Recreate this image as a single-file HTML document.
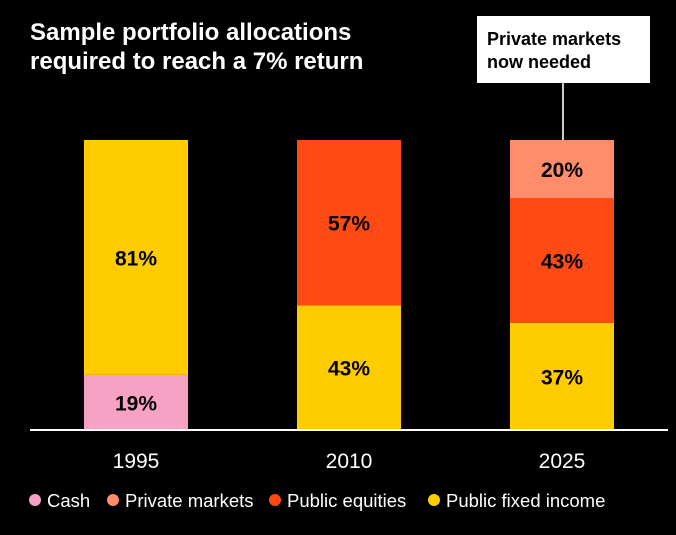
<!DOCTYPE html>
<html><head><meta charset="utf-8"><style>
body{margin:0;background:#000;width:676px;height:530px;overflow:hidden;font-family:"Liberation Sans",sans-serif}
</style></head><body>
<svg id="chart" width="676" height="530">
<text x="30" y="40" fill="#fff" font-size="24" font-weight="bold">Sample portfolio allocations</text>
<text x="30" y="69" fill="#fff" font-size="24" font-weight="bold">required to reach a 7% return</text>
<g>
<rect x="477" y="16" width="173" height="67" fill="#fff"/>
<text x="487" y="45" font-size="18" font-weight="bold" fill="#000">Private markets</text>
<text x="487" y="68" font-size="18" font-weight="bold" fill="#000">now needed</text>
<line x1="563" y1="83" x2="563" y2="140" stroke="#ccc" stroke-width="2"/>
</g>
<g id="bars"></g>
<line x1="30" y1="430" x2="668" y2="430" stroke="#fff" stroke-width="2"/>
<g id="legend"></g>
</svg>
<script>
const years=["1995","2010","2025"];
const cash=[19,0,0];
const fixedIncome=[81,43,37];
const equities=[0,57,43];
const privateMkts=[0,0,20];
const series=[["cash",cash,"#F7A1C4","Cash"],["public-fixed-income",fixedIncome,"#FFCC00","Public fixed income"],["public-equities",equities,"#FF4A14","Public equities"],["private-markets",privateMkts,"#FF8C6B","Private markets"]];
const ns="http://www.w3.org/2000/svg";
const y0=430,h=290;
const ys=v=>v/100*h;
const xs=i=>84+i*213;
const bw=104;
const g=document.getElementById('bars');
years.forEach((yr,i)=>{
  let base=y0;
  series.forEach(s=>{
    const v=s[1][i]; if(!v) return;
    const r=document.createElementNS(ns,'rect');
    r.setAttribute('x',xs(i));r.setAttribute('y',base-ys(v));r.setAttribute('width',bw);r.setAttribute('height',ys(v));r.setAttribute('fill',s[2]);
    
    
    g.appendChild(r);
    const t=document.createElementNS(ns,'text');
    t.setAttribute('x',xs(i)+bw/2);t.setAttribute('y',base-ys(v)/2+8);t.setAttribute('text-anchor','middle');t.setAttribute('font-size','21');t.setAttribute('font-weight','bold');t.textContent=v+'%';
    
    
    g.appendChild(t);
    base-=ys(v);
  });
  const l=document.createElementNS(ns,'text');
  l.setAttribute('x',xs(i)+bw/2);l.setAttribute('y',468);l.setAttribute('text-anchor','middle');l.setAttribute('font-size','21');l.setAttribute('fill','#fff');l.textContent=yr;
  
  
  g.appendChild(l);
});
const leg=[["Cash","#F7A1C4",35],["Private markets","#FF8C6B",113],["Public equities","#FF4A14",275],["Public fixed income","#FFCC00",434]];
const lg=document.getElementById('legend');
leg.forEach(e=>{
  const c=document.createElementNS(ns,'circle');
  c.setAttribute('cx',e[2]);c.setAttribute('cy',500);c.setAttribute('r',6);c.setAttribute('fill',e[1]);
  
  
  lg.appendChild(c);
  const t=document.createElementNS(ns,'text');
  t.setAttribute('x',e[2]+12);t.setAttribute('y',507);t.setAttribute('font-size','18.5');t.setAttribute('fill','#fff');t.textContent=e[0];
  
  
  lg.appendChild(t);
});
</script>
</body></html>
